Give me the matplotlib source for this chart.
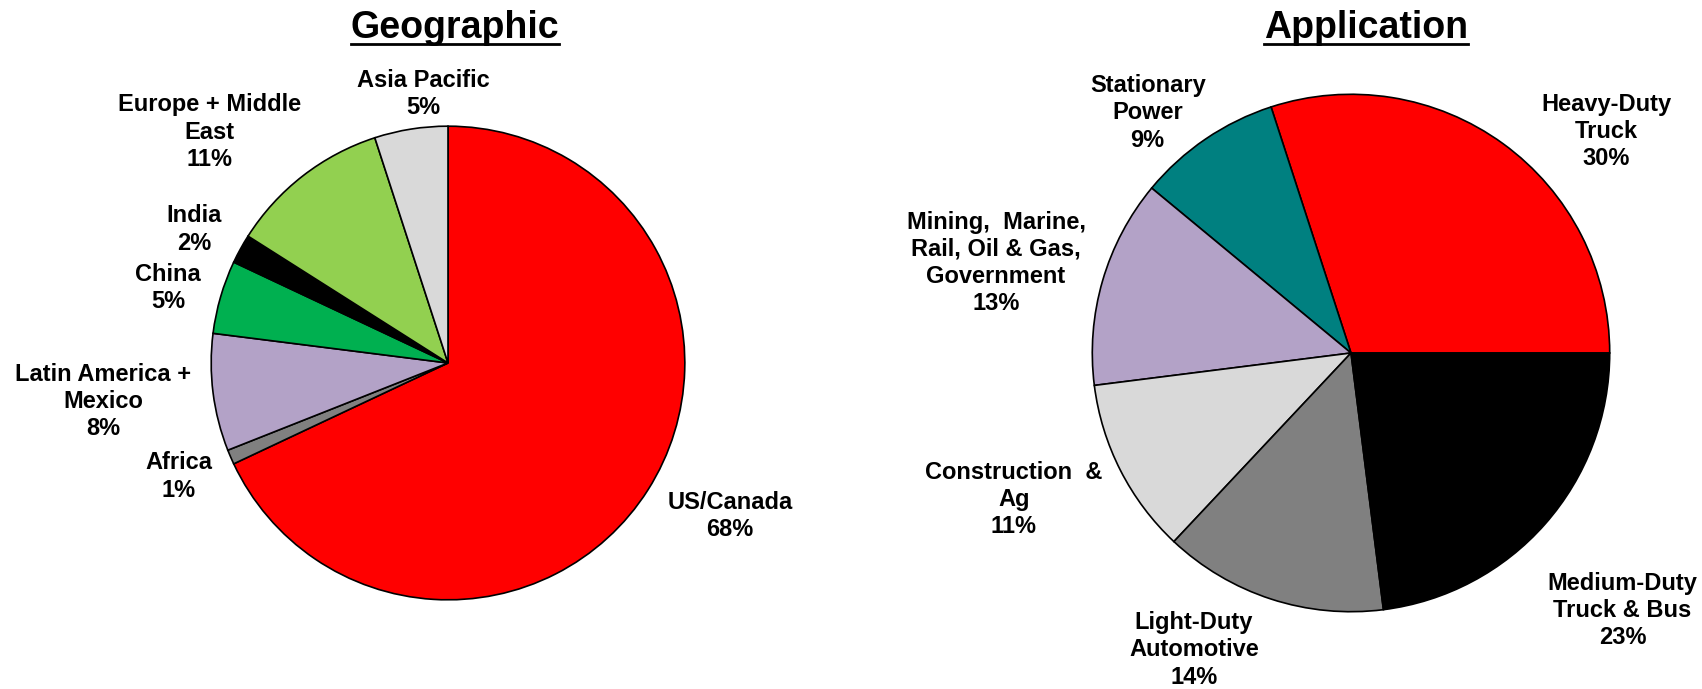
import matplotlib
matplotlib.use("Agg")
import matplotlib.pyplot as plt
from matplotlib.lines import Line2D

plt.rcParams['font.family'] = ['Liberation Sans', 'DejaVu Sans']

# Geographic split (clockwise from 12 o'clock)
geo_labels = ["US/Canada", "Africa", "Latin America +\nMexico", "China", "India",
              "Europe + Middle\nEast", "Asia Pacific"]
geo_values = [68, 1, 8, 5, 2, 11, 5]
geo_colors = ["#FF0000", "#808080", "#B3A2C7", "#00B050", "#000000", "#92D050", "#D9D9D9"]

# Application split (counter-clockwise from 3 o'clock)
app_labels = ["Heavy-Duty\nTruck", "Stationary\nPower",
              "Mining,  Marine,\nRail, Oil & Gas,\nGovernment", "Construction  &\nAg",
              "Light-Duty\nAutomotive", "Medium-Duty\nTruck & Bus"]
app_values = [30, 9, 13, 11, 14, 23]
app_colors = ["#FF0000", "#008080", "#B3A2C7", "#D9D9D9", "#808080", "#000000"]

# label anchor points, in units of pie radius
geo_label_pos = [(1.191, -0.646), (-1.136, -0.479), (-1.455, -0.162), (-1.181, 0.317),
                 (-1.071, 0.564), (-1.008, 0.975), (-0.105, 1.137)]
app_label_pos = [(0.986, 0.856), (-0.786, 0.928), (-1.372, 0.348), (-1.303, -0.567),
                 (-0.607, -1.148), (1.049, -0.994)]

W, H = 1702, 689
fig = plt.figure(figsize=(W / 100, H / 100), dpi=100)


def pie_axes(cx, cy, r):
    return fig.add_axes([(cx - r) / W, (H - cy - r) / H, 2 * r / W, 2 * r / H])


def draw_pie(ax, values, colors, labels, label_pos, startangle, counterclock):
    ax.pie(values, colors=colors, startangle=startangle, counterclock=counterclock,
           radius=1.0, wedgeprops=dict(edgecolor="black", linewidth=1.2))
    ax.set_xlim(-1.005, 1.005)
    ax.set_ylim(-1.005, 1.005)
    ax.set_aspect("auto")
    ax.axis("off")
    for lab, v, (x, y) in zip(labels, values, label_pos):
        ax.text(x, y, f"{lab}\n{v}%", ha="center", va="center", fontsize=17,
                fontweight="bold", linespacing=1.23, clip_on=False)


ax1 = pie_axes(448, 363, 238)
draw_pie(ax1, geo_values, geo_colors, geo_labels, geo_label_pos, 90, False)

ax2 = pie_axes(1351, 353, 260)
draw_pie(ax2, app_values, app_colors, app_labels, app_label_pos, 0, True)

titles = [("Geographic", 455), ("Application", 1366)]
title_objs = []
for t, x in titles:
    title_objs.append(fig.text(x / W, 1 - 38 / H, t, ha="center", va="baseline",
                               fontsize=27, fontweight="bold"))

# underline the titles
fig.canvas.draw()
renderer = fig.canvas.get_renderer()
for txt in title_objs:
    bb = txt.get_window_extent(renderer)
    y = 1 - 44 / H
    fig.add_artist(Line2D([bb.x0 / W, bb.x1 / W], [y, y], color="black",
                          linewidth=2.0, transform=fig.transFigure))

fig.savefig("out.png", dpi=100, facecolor="white")
